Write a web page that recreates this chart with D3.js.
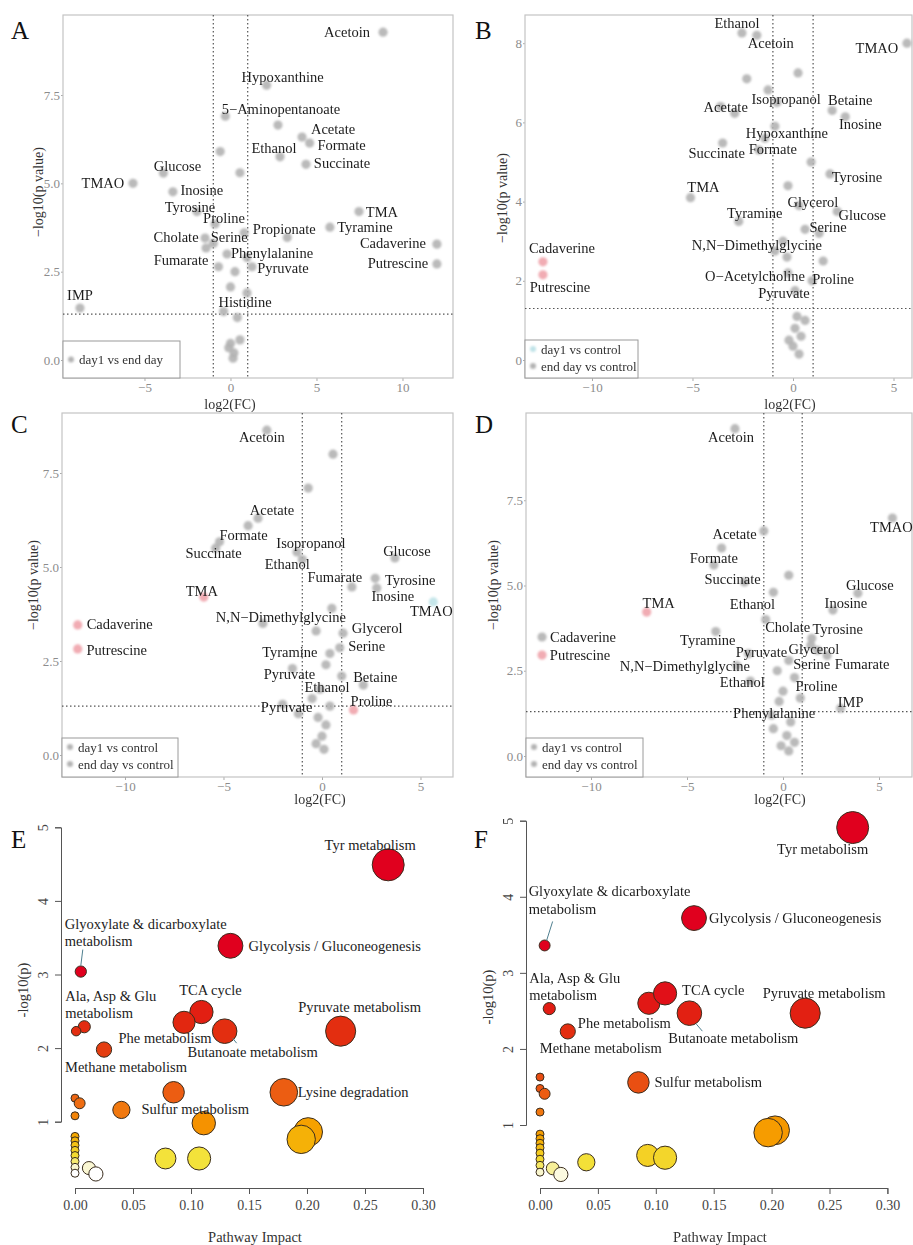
<!DOCTYPE html>
<html><head><meta charset="utf-8">
<script src="https://cdn.jsdelivr.net/npm/d3@7"></script>
<style>
body{margin:0;background:#fff}
svg{display:block}
text{font-family:"Liberation Serif","Times New Roman",serif}
</style>
</head><body>
<svg id="c" width="913" height="1245"></svg>
<script>
// ---------------- DATA ----------------
// Panel A: day1 vs end day
const aNames = ["Acetoin","Hypoxanthine","5\u2212Aminopentanoate","Acetate","Formate","Ethanol","Succinate","Glucose","TMAO","Inosine","Tyrosine","Proline","Cholate","Serine","Fumarate","Propionate","TMA","Tyramine","Cadaverine","Putrescine","Phenylalanine","Pyruvate","Histidine","IMP",
  "","","","","","","","","","","","","","",""];
const aX = [8.87,2.1,2.76,4.16,4.6,2.88,4.39,-3.9,-5.67,-3.35,-1.95,-0.9,-1.48,-1.0,-1.42,3.3,7.47,5.78,12.0,12.0,0.96,1.25,0.96,-8.75,
  -0.7,0.26,0.0,-0.4,0.0,0.55,0.15,-0.3,-0.6,0.8,-0.2,0.4,0.2,-0.1,0.55];
const aY = [9.28,7.78,6.65,6.31,6.14,5.75,5.54,5.29,5.0,4.76,4.2,3.85,3.45,3.3,3.17,3.47,4.2,3.76,3.28,2.72,2.9,2.64,1.9,1.47,
  2.64,2.5,2.07,1.37,0.47,0.57,0.05,6.9,5.9,3.6,3.0,1.2,0.2,0.35,5.3];
const aGroup = aNames.map(() => 0);

// Panel B: day1 / end day vs control
const bNames = ["Ethanol","Acetoin","TMAO","Acetate","Isopropanol","Betaine","Inosine","Hypoxanthine","Succinate","Formate","TMA","Tyrosine","Glycerol","Tyramine","Glucose","Serine","N,N\u2212Dimethylglycine","Cadaverine","Putrescine","O\u2212Acetylcholine","Proline","Pyruvate",
  "","","","","","","","","","","","","","","","","",""];
const bX = [-2.54,-1.8,5.67,-2.9,-1.24,1.95,2.6,-0.9,-3.5,-1.7,-5.1,1.84,-0.25,-2.7,2.2,0.6,-0.9,-12.44,-12.44,-0.25,0.95,0.1,
  0.2,0.1,0.4,0.0,0.3,-0.2,0.6,-0.5,-0.3,0.3,1.3,-1.4,-0.8,-2.3,0.9,1.5,-3.6,0.25];
const bY = [8.26,8.2,8.0,6.23,6.82,6.3,6.14,5.9,5.48,5.3,4.1,4.7,4.4,3.5,3.75,3.3,2.75,2.48,2.15,2.2,2.0,1.75,
  1.1,0.8,0.6,0.35,0.15,0.5,1.0,3.0,2.6,3.9,3.2,5.6,6.5,7.1,5.0,2.5,6.4,7.25];
const bGroup = bNames.map((n) => (n === "Cadaverine" || n === "Putrescine") ? 1 : 0);

// Panel C
const cNames = ["Acetoin","Acetate","Formate","Succinate","Isopropanol","Ethanol","Glucose","Fumarate","Tyrosine","Inosine","TMAO","TMA","N,N\u2212Dimethylglycine","Glycerol","Serine","Cadaverine","Putrescine","Tyramine","Pyruvate","Betaine","Ethanol","Proline","Pyruvate",
  "","","","","","","","","","","","","","",""];
const cX = [-2.8,-3.25,-5.2,-5.4,-1.27,-1.0,3.7,1.52,2.7,2.78,5.65,-6.0,-3.0,1.07,0.9,-12.4,-12.4,0.4,-1.5,2.1,-0.1,1.6,-2.0,
  0.56,-0.7,-3.75,-0.2,0.0,0.2,-0.3,0.1,-0.5,1.0,0.5,-0.3,0.2,-1.2,0.4];
const cY = [8.64,6.3,5.67,5.5,5.4,5.2,5.24,4.47,4.7,4.44,4.07,4.2,3.5,3.24,2.85,3.46,2.82,2.7,2.3,1.86,1.75,1.2,1.35,
  8.0,7.1,6.1,1.0,0.5,0.8,0.3,0.15,1.5,2.1,3.9,3.3,2.4,1.1,1.3];
const cGroup = [0,0,0,0,0,0,0,0,0,0,2,1,0,0,0,1,1,0,0,0,0,1,0, 0,0,0,0,0,0,0,0,0,0,0,0,0,0,0];

// Panel D
const dNames = ["Acetoin","TMAO","Acetate","Formate","Succinate","Glucose","Inosine","TMA","Ethanol","Cholate","Tyrosine","Cadaverine","Putrescine","Tyramine","Pyruvate","Glycerol","N,N\u2212Dimethylglycine","Serine","Fumarate","Ethanol","Proline","IMP","Phenylalanine",
  "","","","","","","","","","","","",""];
const dX = [-2.5,5.7,-3.2,-3.6,-2.0,3.9,2.6,-7.1,-0.5,-0.9,1.5,-12.55,-12.55,-3.5,-1.8,1.45,-2.4,0.3,2.3,-1.7,0.6,3.0,-0.2,
  -1.0,0.3,-0.3,0.0,0.4,0.2,-0.1,0.3,0.6,-0.5,1.8,-0.6,0.9];
const dY = [9.6,6.98,6.1,5.6,5.1,4.77,4.28,4.22,4.8,4.0,3.45,3.49,2.96,3.65,3.0,3.25,2.65,2.8,2.95,2.2,2.3,1.4,1.6,
  6.6,5.3,2.5,1.9,1.0,0.6,0.3,0.15,0.4,0.8,3.1,1.2,1.7];
const dGroup = [0,0,0,0,0,0,0,1,0,0,0,0,1,0,0,0,0,0,0,0,0,0,0, 0,0,0,0,0,0,0,0,0,0,0,0,0];

// Volcano tick labels
const volcanoXTicks = [-10,-5,0,5];
const aXTicks = [-5,0,5,10];
const aYTicks = [0,2.5,5,7.5];
const bYTicks = [0,2,4,6,8];

// Panel E: pathway impact vs -log10(p)
const eImpact = [0.27,0.134,0.005,0.109,0.094,0.129,0.229,0.008,0.001,0.025,0.085,0.18,0.04,0.111,0.201,0.195,0.078,0.107,0.012,0.018,
  0,0.004,0,0,0,0,0,0,0,0,0];
const eLogP = [4.49,3.39,3.04,2.49,2.35,2.23,2.23,2.29,2.23,1.98,1.40,1.40,1.16,0.98,0.86,0.76,0.50,0.50,0.37,0.29,
  1.32,1.25,1.08,0.80,0.74,0.68,0.61,0.54,0.46,0.38,0.30];
const eNames = ["Tyr metabolism","Glycolysis / Gluconeogenesis","Glyoxylate & dicarboxylate\nmetabolism","TCA cycle","Phe metabolism","Butanoate metabolism","Pyruvate metabolism","Ala, Asp & Glu\nmetabolism","","Methane metabolism","","Lysine degradation","Sulfur metabolism",
  "","","","","","","","","","","","","","","","","",""];

// Panel F
const fImpact = [0.27,0.133,0.004,0.094,0.108,0.129,0.229,0.008,0.024,0.085,0.203,0.197,0.093,0.108,0.04,0.011,0.018,
  0,0,0.004,0,0,0,0,0,0,0,0,0];
const fLogP = [4.91,3.72,3.36,2.6,2.73,2.47,2.47,2.53,2.23,1.56,0.93,0.90,0.6,0.57,0.51,0.43,0.35,
  1.63,1.48,1.41,1.17,0.88,0.82,0.76,0.70,0.63,0.55,0.47,0.38];
const fNames = ["Tyr metabolism","Glycolysis / Gluconeogenesis","Glyoxylate & dicarboxylate\nmetabolism","Phe metabolism","TCA cycle","Butanoate metabolism","Pyruvate metabolism","Ala, Asp & Glu\nmetabolism","Methane metabolism","Sulfur metabolism",
  "","","","","","","","","","","","","","","","","","",""];
const impactTicks = [0,0.05,0.10,0.15,0.20,0.25,0.30];
const logPTicks = [1,2,3,4,5];

// ---------------- LAYOUT (label offsets in px) ----------------
const aLab = [[-36,0],[16,-8],[3,-16],[31,-8],[32,2],[-6,-9],[36,-1],[14,-7],[-30,0],[29,-2],[-7,-5],[9,-6],[-29,-1],[16,-6],[-25,12],[-3,-8],[23,0],[35,0],[-44,-1],[-39,-1],[25,-5],[31,1],[-2,9],[0,-13]];
const bLab = [[-5,-10],[14,8],[-30,5],[-9,-6],[18,9],[18,-11],[15,7],[12,7],[-6,10],[14,-1],[13,-11],[27,3],[25,16],[16,-8],[25,4],[23,-2],[-18,-6],[19,-14],[17,12],[-33,3],[21,-2],[-11,2]];
const cLab = [[-5,7],[14,-8],[24,-7],[-2,5],[14,-9],[-15,5],[12,-7],[-17,-10],[35,2],[16,8],[-2,9],[-2,-6],[18,-6],[34,-5],[27,-2],[42,-1],[39,1],[-40,-1],[-3,5],[12,-8],[7,-2],[18,-9],[4,3]];
const dLab = [[-4,8],[-1,9],[13,-14],[0,-7],[-12,-3],[12,-8],[13,-7],[12,-9],[-21,12],[22,7],[26,-9],[41,0],[38,0],[-8,8],[13,-2],[3,4],[-52,0],[23,3],[35,9],[-8,1],[22,8],[10,-6],[-5,12]];
// [dx, dy, anchor, leader?]
const eLab = {
  "Tyr metabolism":[-18,-20,"middle"],
  "Glycolysis / Gluconeogenesis":[18,0,"start"],
  "Glyoxylate & dicarboxylate\nmetabolism":[-16,-48,"start",[2,-22,0,-6]],
  "TCA cycle":[9,-22,"middle"],
  "Phe metabolism":[-19,16,"middle"],
  "Butanoate metabolism":[28,21,"middle",[8,7,12,12]],
  "Pyruvate metabolism":[19,-24,"middle"],
  "Ala, Asp & Glu\nmetabolism":[-19,-31,"start"],
  "Methane metabolism":[-39,17,"start"],
  "Lysine degradation":[14,0,"start"],
  "Sulfur metabolism":[20,-1,"start"]
};
const fLab = {
  "Tyr metabolism":[-30,21,"middle"],
  "Glycolysis / Gluconeogenesis":[15,0,"start"],
  "Glyoxylate & dicarboxylate\nmetabolism":[-16,-54,"start",[8,-24,2,-5]],
  "TCA cycle":[17,-3,"start"],
  "Phe metabolism":[-71,20,"start"],
  "Butanoate metabolism":[44,25,"middle",[7,11,13,18]],
  "Pyruvate metabolism":[19,-20,"middle"],
  "Ala, Asp & Glu\nmetabolism":[-20,-31,"start"],
  "Methane metabolism":[-28,17,"start"],
  "Sulfur metabolism":[16,0,"start"]
};

// ---------------- DRAW ----------------
const svg = d3.select("#c");
svg.append("rect").attr("width",913).attr("height",1245).attr("fill","#fff");
svg.append("defs").append("filter").attr("id","blur").attr("x","-50%").attr("y","-50%").attr("width","200%").attr("height","200%")
  .append("feGaussianBlur").attr("stdDeviation",1.2);

const groupColor = ["#b3b3b3","#f0a3ab","#bfe3e8"];

function volcano(cfg){
  const {names,xs,ys,groups,labs,box,xDom,yDom,xTicks,yTicks,yFmt,xFmt,legend,xTitle,yTitle,letter} = cfg;
  const x = d3.scaleLinear().domain(xDom).range([box.l, box.r]);
  const y = d3.scaleLinear().domain(yDom).range([box.b, box.t]);
  const g = svg.append("g");

  // axes
  const xa = g.append("g").attr("transform",`translate(0,${box.b})`)
    .call(d3.axisBottom(x).tickValues(xTicks).tickSize(3).tickPadding(2).tickFormat(xFmt || (d=>String(d).replace("-","\u2212"))));
  const ya = g.append("g").attr("transform",`translate(${box.l},0)`)
    .call(d3.axisLeft(y).tickValues(yTicks).tickSize(2).tickPadding(1).tickFormat(yFmt));
  [xa,ya].forEach(a=>{
    a.select(".domain").remove();
    a.selectAll(".tick line").attr("stroke","#aaa");
    a.selectAll(".tick text").attr("fill","#8c8c8c").attr("font-size",13)
      .attr("font-family","'Liberation Serif',serif");
  });

  // frame
  g.append("rect").attr("x",box.l).attr("y",box.t).attr("width",box.r-box.l).attr("height",box.b-box.t)
    .attr("fill","none").attr("stroke","#c4c4c4").attr("stroke-width",1.2);

  // threshold lines
  const thr = -Math.log10(0.05);
  [-1,1].forEach(v=>{
    g.append("line").attr("x1",x(v)).attr("x2",x(v)).attr("y1",box.t).attr("y2",box.b)
      .attr("stroke","#555").attr("stroke-width",1.2).attr("stroke-dasharray","1.5,2.5");
  });
  g.append("line").attr("x1",box.l).attr("x2",box.r).attr("y1",y(thr)).attr("y2",y(thr))
    .attr("stroke","#555").attr("stroke-width",1.2).attr("stroke-dasharray","1.5,2.5");

  // points
  const pts = names.map((n,i)=>({n, x:xs[i], y:ys[i], g:groups[i], lab:labs[i]}));
  g.append("g").attr("filter","url(#blur)").selectAll("circle").data(pts).join("circle")
    .attr("cx",d=>x(d.x)).attr("cy",d=>y(d.y)).attr("r",4.6)
    .attr("fill",d=>groupColor[d.g]).attr("opacity",0.9);

  // labels
  g.append("g").selectAll("text").data(pts.filter(d=>d.n)).join("text")
    .attr("x",d=>x(d.x)+d.lab[0]).attr("y",d=>y(d.y)+d.lab[1])
    .attr("text-anchor","middle").attr("dominant-baseline","central")
    .attr("font-size",14.5).attr("fill","#1c1c1c").text(d=>d.n);

  // legend
  g.append("rect").attr("x",legend.x).attr("y",legend.y).attr("width",legend.w).attr("height",legend.h)
    .attr("fill","#fff").attr("stroke","#9a9a9a");
  legend.items.forEach((it,i)=>{
    const cy = legend.items.length===1 ? legend.y+legend.h/2 : legend.y+9+i*17;
    g.append("circle").attr("cx",legend.x+8).attr("cy",cy).attr("r",3).attr("fill",groupColor[it[1]]).attr("filter","url(#blur)");
    g.append("text").attr("x",legend.x+16).attr("y",cy).attr("dominant-baseline","central")
      .attr("font-size",13).attr("fill","#333").text(it[0]);
  });

  // titles
  g.append("text").attr("x",xTitle[0]).attr("y",xTitle[1]).attr("text-anchor","middle")
    .attr("font-size",14).attr("fill","#333").text("log2(FC)");
  g.append("text").attr("transform",`translate(${yTitle[0]},${yTitle[1]}) rotate(-90)`)
    .attr("text-anchor","middle").attr("dominant-baseline","central")
    .attr("font-size",14).attr("fill","#333").text("\u2212log10(p value)");
  g.append("text").attr("x",letter[0]).attr("y",letter[1]).attr("font-size",25).attr("fill","#111").text(letter[2]);
}

volcano({names:aNames,xs:aX,ys:aY,groups:aGroup,labs:aLab,
  box:{l:63,r:453,t:15,b:378}, xDom:[-9.738,12.936], yDom:[-0.509,9.765],
  xTicks:aXTicks, yTicks:aYTicks, yFmt:d3.format(".1f"),
  legend:{x:63,y:341,w:117,h:37,items:[["day1 vs end day",0]]},
  xTitle:[230,409], yTitle:[38,192], letter:[11,39,"A"]});

volcano({names:bNames,xs:bX,ys:bY,groups:bGroup,labs:bLab,
  box:{l:525,r:912,t:15,b:378}, xDom:[-13.333,5.920], yDom:[-0.4545,8.712],
  xTicks:volcanoXTicks, yTicks:bYTicks, yFmt:d3.format("d"),
  legend:{x:525,y:340,w:113,h:38,items:[["day1 vs control",2],["end day vs control",0]]},
  xTitle:[790,409], yTitle:[502,198], letter:[475,39,"B"]});

volcano({names:cNames,xs:cX,ys:cY,groups:cGroup,labs:cLab,
  box:{l:62,r:453,t:413,b:777}, xDom:[-13.198,6.650], yDom:[-0.585,9.096],
  xTicks:volcanoXTicks, yTicks:aYTicks, yFmt:d3.format(".1f"),
  legend:{x:62,y:738,w:116,h:39,items:[["day1 vs control",0],["end day vs control",0]]},
  xTitle:[320,804], yTitle:[33,585], letter:[11,433,"C"]});

volcano({names:dNames,xs:dX,ys:dY,groups:dGroup,labs:dLab,
  box:{l:526,r:912,t:413,b:777}, xDom:[-13.385,6.719], yDom:[-0.616,10.059],
  xTicks:volcanoXTicks, yTicks:aYTicks, yFmt:d3.format(".1f"),
  legend:{x:526,y:738,w:117,h:39,items:[["day1 vs control",0],["end day vs control",0]]},
  xTitle:[780,804], yTitle:[493,585], letter:[475,433,"D"]});

// ---- bubble plots ----
const heat = d3.scaleLinear()
  .domain([0.3,0.4,0.5,0.65,0.8,1.0,1.2,1.5,2.0,2.4,3.0])
  .range(["#ffffff","#f8f4c0","#f3e23a","#f4c81a","#f6a800","#f59000","#f07212","#ea5212","#e43c10","#e22410","#e0001e"])
  .clamp(true);
const rScale = d3.scaleSqrt().domain([0,0.27]).range([4,16]);

function bubble(cfg){
  const {imp,lp,names,labs,xr,yr,axisX,axisY,tickLabX,yTitle,xTitle,letter} = cfg;
  const x = d3.scaleLinear().domain([0,0.30]).range(xr);
  const y = d3.scaleLinear().domain([1,5]).range(yr);
  const g = svg.append("g");

  // y axis
  const ya = g.append("g").attr("transform",`translate(${axisX},0)`)
    .call(d3.axisLeft(y).tickValues(logPTicks).tickSize(6).tickFormat(d3.format("d")));
  ya.select(".domain").attr("stroke","#555");
  ya.selectAll(".tick line").attr("stroke","#555");
  ya.selectAll(".tick text").attr("x",null).attr("dy",null)
    .attr("transform",function(d){return `translate(${tickLabX-axisX},0) rotate(-90)`;})
    .attr("text-anchor","middle").attr("dominant-baseline","central")
    .attr("font-size",14).attr("fill","#444").attr("font-family","'Liberation Serif',serif");

  // x axis
  const xa = g.append("g").attr("transform",`translate(0,${axisY})`)
    .call(d3.axisBottom(x).tickValues(impactTicks).tickSize(6).tickPadding(6).tickFormat(d3.format(".2f")));
  xa.select(".domain").attr("stroke","#555");
  xa.selectAll(".tick line").attr("stroke","#555");
  xa.selectAll(".tick text").attr("font-size",14).attr("fill","#444").attr("font-family","'Liberation Serif',serif");

  const pts = imp.map((v,i)=>({x:v, y:lp[i], n:names[i]}));
  g.append("g").selectAll("circle").data(pts).join("circle")
    .attr("cx",d=>x(d.x)).attr("cy",d=>y(d.y))
    .attr("r",d=>rScale(d.x))
    .attr("fill",d=>heat(d.y)).attr("stroke","#3a2d1e").attr("stroke-width",1);

  // labels
  pts.filter(d=>d.n).forEach(d=>{
    const L = labs[d.n];
    const cx = x(d.x), cy = y(d.y);
    if (L[3]) {
      g.append("line").attr("x1",cx+L[3][0]).attr("y1",cy+L[3][1]).attr("x2",cx+L[3][2]).attr("y2",cy+L[3][3])
        .attr("stroke","#4f7f8f").attr("stroke-width",1);
    }
    const lines = d.n.split("\n");
    const t = g.append("text").attr("x",cx+L[0]).attr("y",cy+L[1]).attr("text-anchor",L[2])
      .attr("dominant-baseline","central").attr("font-size",14.5).attr("fill","#1c1c1c");
    lines.forEach((ln,i)=>{
      t.append("tspan").attr("x",cx+L[0]).attr("dy",i===0?0:17.5).text(ln);
    });
  });

  g.append("text").attr("x",xTitle[0]).attr("y",xTitle[1]).attr("text-anchor","middle")
    .attr("font-size",14.5).attr("fill","#333").text("Pathway Impact");
  g.append("text").attr("transform",`translate(${yTitle[0]},${yTitle[1]}) rotate(-90)`)
    .attr("text-anchor","middle").attr("dominant-baseline","central")
    .attr("font-size",14.5).attr("fill","#333").text("-log10(p)");
  g.append("text").attr("x",letter[0]).attr("y",letter[1]).attr("font-size",25).attr("fill","#111").text(letter[2]);
}

bubble({imp:eImpact,lp:eLogP,names:eNames,labs:eLab,
  xr:[75,423], yr:[1121.7,827.3], axisX:61, axisY:1188, tickLabX:43,
  yTitle:[23,990], xTitle:[255,1242], letter:[11,848,"E"]});
bubble({imp:fImpact,lp:fLogP,names:fNames,labs:fLab,
  xr:[540,887.4], yr:[1125,820.7], axisX:526, axisY:1188, tickLabX:508,
  yTitle:[488,997], xTitle:[720,1242], letter:[474,848,"F"]});
</script>
</body></html>
